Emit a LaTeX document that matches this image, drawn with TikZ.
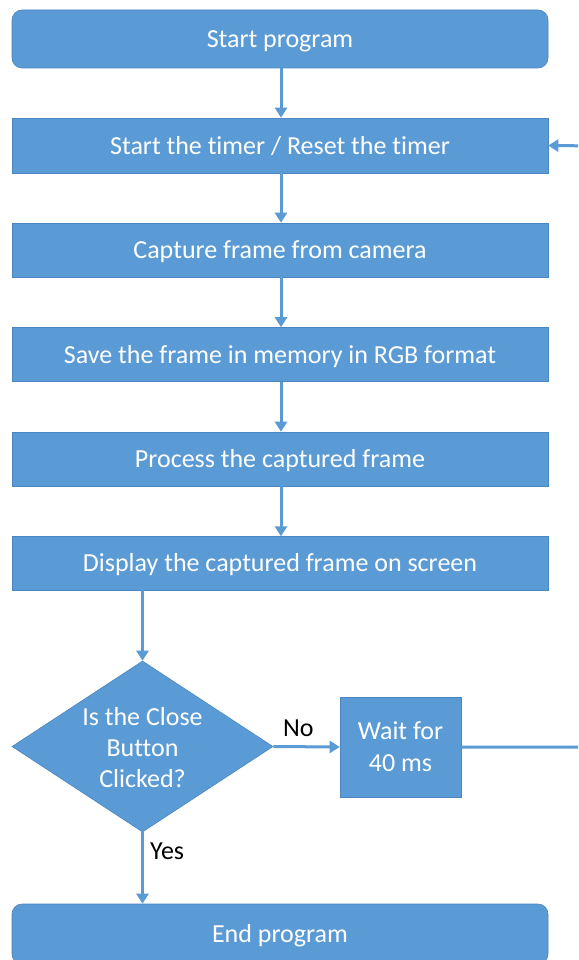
\documentclass[tikz,border=0pt]{standalone}
\usepackage{fontspec}
\setmainfont[Ligatures=NoCommon]{Carlito}
\usetikzlibrary{arrows.meta,shapes.geometric,calc}
\definecolor{boxblue}{HTML}{5B9BD5}
\definecolor{boxedge}{HTML}{4A86C0}
\begin{document}
\begin{tikzpicture}[x=1pt,y=-1pt,
  font=\fontsize{26}{31}\selectfont,
  stepbox/.style={rectangle, fill=boxblue, draw=boxedge, line width=0.6pt,
    minimum width=536pt, text=white, inner sep=0pt, align=center,
    text height=19pt, text depth=1.5pt},
  termbox/.style={stepbox, rounded corners=10pt},
  conn/.style={draw=boxblue, line width=3pt, -{Triangle[width=12pt,length=10pt]}},
  lbl/.style={text=black, inner sep=0pt}]
\clip (0,0) rectangle (578,960);
\fill[white] (0,0) rectangle (578,960);
\node[termbox, minimum height=58pt] (start) at (280,39) {Start program};
\node[stepbox, minimum height=55pt] (b2) at (280,145.5) {Start the timer / Reset the timer};
\node[stepbox, minimum height=54pt] (b3) at (280,250) {Capture frame from camera};
\node[stepbox, minimum height=54pt] (b4) at (280,354.5) {Save the frame in memory in RGB format};
\node[stepbox, minimum height=54pt] (b5) at (280,459) {Process the captured frame};
\node[stepbox, minimum height=54pt] (b6) at (280,563) {Display the captured frame on screen};
\node[diamond, fill=boxblue, draw=boxedge, line width=0.6pt, inner sep=0pt,
  minimum width=261pt, minimum height=171pt] (dia) at (142.5,746.5) {};
\node[text=white, align=center, inner sep=0pt] (diatext) at ($(dia.center)+(0,1)$) {Is the Close\\Button\\Clicked?};
\node[rectangle, fill=boxblue, draw=boxedge, line width=0.6pt, minimum width=121pt,
  minimum height=100pt, text=white, align=center, inner sep=0pt,
  font=\fontsize{26}{32}\selectfont] (wait) at (400.5,747) {Wait for\\40 ms};
\node[termbox, minimum height=60pt] (end) at (280,934) {End program};
\coordinate (loopA) at (600,747);
\coordinate (loopB) at (600,146);
\draw[conn] ($(start.south)+(1,0)$) -- ($(b2.north)+(1,0)$);
\draw[conn] ($(b2.south)+(1,0)$) -- ($(b3.north)+(1,0)$);
\draw[conn] ($(b3.south)+(1,0)$) -- ($(b4.north)+(1,0)$);
\draw[conn] ($(b4.south)+(1,0)$) -- ($(b5.north)+(1,0)$);
\draw[conn] ($(b5.south)+(1,0)$) -- ($(b6.south)+(1,-54)$);
\draw[conn] (b6.south -| dia.north) -- (dia.north);
\draw[conn] (dia.east) -- (wait.west);
\node[lbl, anchor=base] (no) at ($(dia.east)+(25,-10)$) {No};
\draw[conn] (dia.south) -- (end.north -| dia.south);
\node[lbl, anchor=base west] (yes) at ($(dia.south)+(7.5,27)$) {Yes};
\draw[conn] (wait.east) -- (loopA) -- (loopB) -- (b2.east);
\end{tikzpicture}
\end{document}
